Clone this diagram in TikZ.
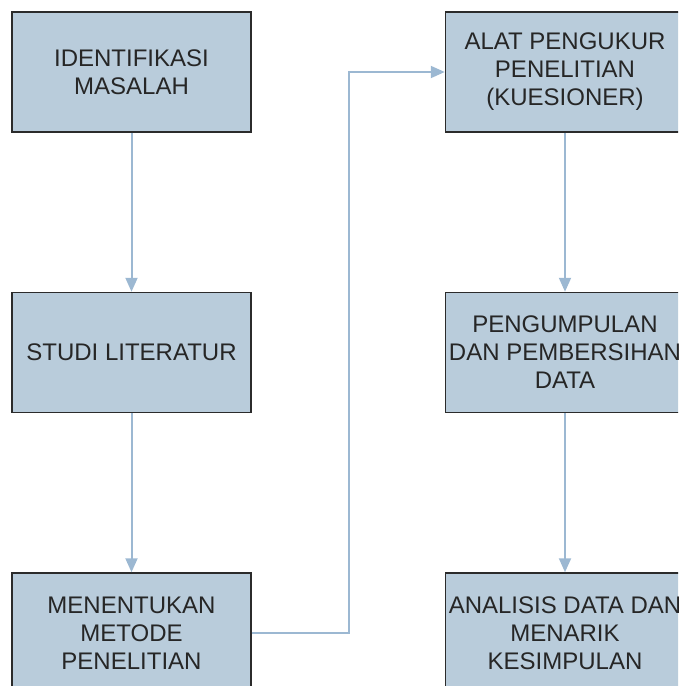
\documentclass[tikz,border=0pt]{standalone}
\usepackage{fontspec}
\setmainfont{Liberation Sans}
\usetikzlibrary{arrows.meta}
\definecolor{boxfill}{HTML}{B9CCDB}
\definecolor{boxline}{HTML}{2B2B2B}
\definecolor{conn}{HTML}{9CB8D2}
\begin{document}
\begin{tikzpicture}[x=1pt,y=-1pt,
  procbox/.style={draw=boxline, fill=boxfill, line width=1.5pt,
    minimum width=239pt, minimum height=120pt, inner sep=0pt,
    align=center, font=\fontsize{24}{28}\selectfont, text=black!85},
  flow/.style={draw=conn, line width=2pt, -{Triangle[length=14pt,width=12pt]}}]
\useasboundingbox (0,0) rectangle (678,686);
\clip (0,0) rectangle (678,686);
\node[procbox] (a) at (131.5,72) {IDENTIFIKASI\\MASALAH};
\node[procbox] (b) at (131.5,352.5) {STUDI LITERATUR};
\node[procbox] (c) at (131.5,633) {MENENTUKAN\\METODE\\PENELITIAN};
\node[procbox] (d) at (565,72) {ALAT PENGUKUR\\PENELITIAN\\(KUESIONER)};
\node[procbox] (e) at (565,352.5) {PENGUMPULAN\\DAN PEMBERSIHAN\\DATA};
\node[procbox] (f) at (565,633) {ANALISIS DATA DAN\\MENARIK\\KESIMPULAN};
\draw[flow] (a) -- (b);
\draw[flow] (b) -- (c);
\draw[flow] (c.east) -- ++(97,0) |- (d.west);
\draw[flow] (d) -- (e);
\draw[flow] (e) -- (f);
\end{tikzpicture}
\end{document}
